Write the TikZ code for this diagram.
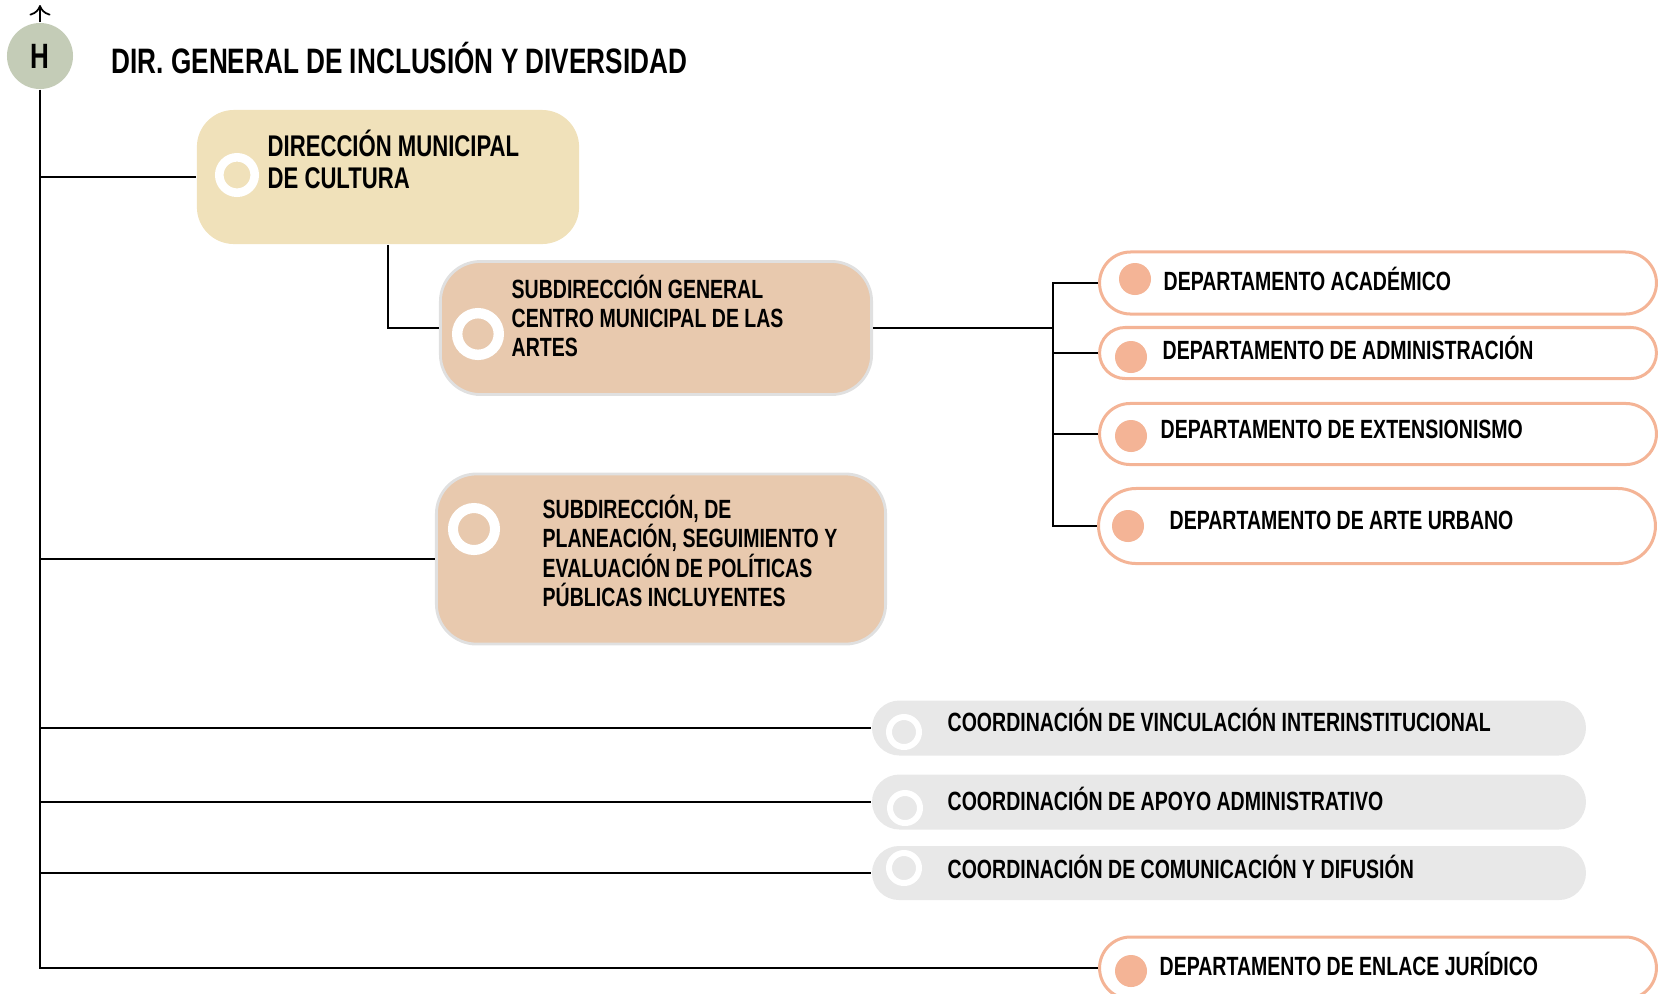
\documentclass[tikz,border=0pt]{standalone}
\usepackage{fontspec}
\newfontfamily\orgfont{Liberation Sans}[FakeStretch=0.74]
\usetikzlibrary{arrows.meta, shapes.misc}

\definecolor{hgreen}{RGB}{196,204,183}
\definecolor{cultfill}{RGB}{240,225,186}
\definecolor{subfill}{RGB}{232,201,174}
\definecolor{deptline}{RGB}{244,180,150}
\definecolor{coordfill}{RGB}{232,232,232}

\begin{document}
\begin{tikzpicture}
        [x=0.01cm, y=-0.01cm,
        lbl/.style={anchor=west, inner sep=0pt, align=left,
          font=\orgfont\bfseries\fontsize{7.5}{8.3}\selectfont},
        conn/.style={draw=black, line width=0.5pt},
        hnode/.style={circle, fill=hgreen, inner sep=0pt, minimum size=0.66cm,
          font=\orgfont\bfseries\fontsize{10}{12}\selectfont},
        cultbox/.style={rectangle, rounded corners=0.37cm, fill=cultfill},
        subbox/.style={rectangle, rounded corners=0.4cm, fill=subfill,
          draw=black!12, line width=0.8pt},
        deptbox/.style={rounded rectangle, draw=deptline, line width=0.03cm,
          fill=white, minimum width=5.80cm},
        coordbox/.style={rounded rectangle, fill=coordfill, minimum width=7.37cm},
        ring/.style={circle, draw=white, inner sep=0pt},
        dot/.style={circle, fill=deptline, inner sep=0pt, minimum size=0.32cm}]
        \useasboundingbox (0, 0) rectangle (1663, 993);

        \node (H) at (40, 56) [hnode] {H};
        \node (title) at (111, 58) [lbl, font=\orgfont\bfseries\fontsize{10.05}{12}\selectfont]
          {DIR. GENERAL DE INCLUSIÓN Y DIVERSIDAD};
        \coordinate (top) at (40, 5);
        \draw[conn, -{To[length=3pt, width=6pt]}] (H.north) -- (top);

        % direcciones y subdirecciones
        \node (cultura) at (388, 177) [cultbox, minimum width=3.82cm, minimum height=1.34cm] {};
        \node (cultura-r) at (237, 175) [ring, line width=0.086cm, fill=cultfill, minimum size=0.354cm] {};
        \node (cultura-t) at (267, 159) [lbl, font=\orgfont\bfseries\fontsize{8.5}{9.1}\selectfont]
          {DIRECCIÓN MUNICIPAL\\DE CULTURA};

        \node (sub) at (656, 328) [subbox, minimum width=4.31cm, minimum height=1.33cm] {};
        \node (sub-r) at (478, 334) [ring, line width=0.104cm, fill=subfill, minimum size=0.416cm] {};
        \node (sub-t) at (511, 316) [lbl] {SUBDIRECCIÓN GENERAL\\CENTRO MUNICIPAL DE LAS\\ARTES};

        \node (plan) at (661, 559) [subbox, minimum width=4.49cm, minimum height=1.70cm] {};
        \node (plan-r) at (474, 529) [ring, line width=0.10cm, fill=subfill, minimum size=0.42cm] {};
        \node (plan-t) at (542, 551) [lbl]
          {SUBDIRECCIÓN, DE\\PLANEACIÓN, SEGUIMIENTO Y\\EVALUACIÓN DE POLÍTICAS\\PÚBLICAS INCLUYENTES};

        % departamentos
        \node (acad) at (1378, 283) [deptbox, minimum height=0.62cm] {};
        \node (acad-d) at (1135, 279) [dot] {};
        \node (acad-t) at (1163, 279) [lbl] {DEPARTAMENTO ACADÉMICO};
        \node (admin) at (1378, 353) [deptbox, minimum height=0.51cm] {};
        \node (admin-d) at (1131, 357) [dot] {};
        \node (admin-t) at (1162, 348) [lbl] {DEPARTAMENTO DE ADMINISTRACIÓN};
        \node (ext) at (1378, 434) [deptbox, minimum height=0.61cm] {};
        \node (ext-d) at (1131, 436) [dot] {};
        \node (ext-t) at (1160, 429) [lbl] {DEPARTAMENTO DE EXTENSIONISMO};
        \node (urbano) at (1377, 526) [deptbox, minimum height=0.75cm] {};
        \node (urbano-d) at (1128, 526) [dot] {};
        \node (urbano-t) at (1169, 520) [lbl] {DEPARTAMENTO DE ARTE URBANO};
        \node (enlace) at (1378, 968) [deptbox, minimum height=0.62cm] {};
        \node (enlace-d) at (1131, 971) [dot] {};
        \node (enlace-t) at (1159, 964) [lbl] {DEPARTAMENTO DE ENLACE JURÍDICO};

        % coordinaciones
        \node (vinc) at (1229, 728) [coordbox, minimum height=0.55cm] {};
        \node (vinc-r) at (904, 732) [ring, line width=0.06cm, fill=coordfill, minimum size=0.3cm] {};
        \node (vinc-t) at (947, 720) [lbl] {COORDINACIÓN DE VINCULACIÓN INTERINSTITUCIONAL};
        \node (apoyo) at (1229, 802) [coordbox, minimum height=0.55cm] {};
        \node (apoyo-r) at (905, 808) [ring, line width=0.06cm, fill=coordfill, minimum size=0.3cm] {};
        \node (apoyo-t) at (947, 799) [lbl] {COORDINACIÓN DE APOYO ADMINISTRATIVO};
        \node (comun) at (1229, 873) [coordbox, minimum height=0.54cm] {};
        \node (comun-r) at (904, 868) [ring, line width=0.06cm, fill=coordfill, minimum size=0.3cm] {};
        \node (comun-t) at (947, 867) [lbl] {COORDINACIÓN DE COMUNICACIÓN Y DIFUSIÓN};

        % conectores
        \draw[conn] (H.south) |- (enlace.west);
        \foreach \n in {cultura, plan, vinc, apoyo, comun}
          \draw[conn] (H.south |- \n.west) -- (\n.west);
        \draw[conn] (cultura.south) |- (sub.west);
        \coordinate (bus) at (1053, 328);
        \foreach \n in {acad, admin, ext, urbano}
          \draw[conn] (sub.east) -- (bus) |- (\n.west);
\end{tikzpicture}
\end{document}
